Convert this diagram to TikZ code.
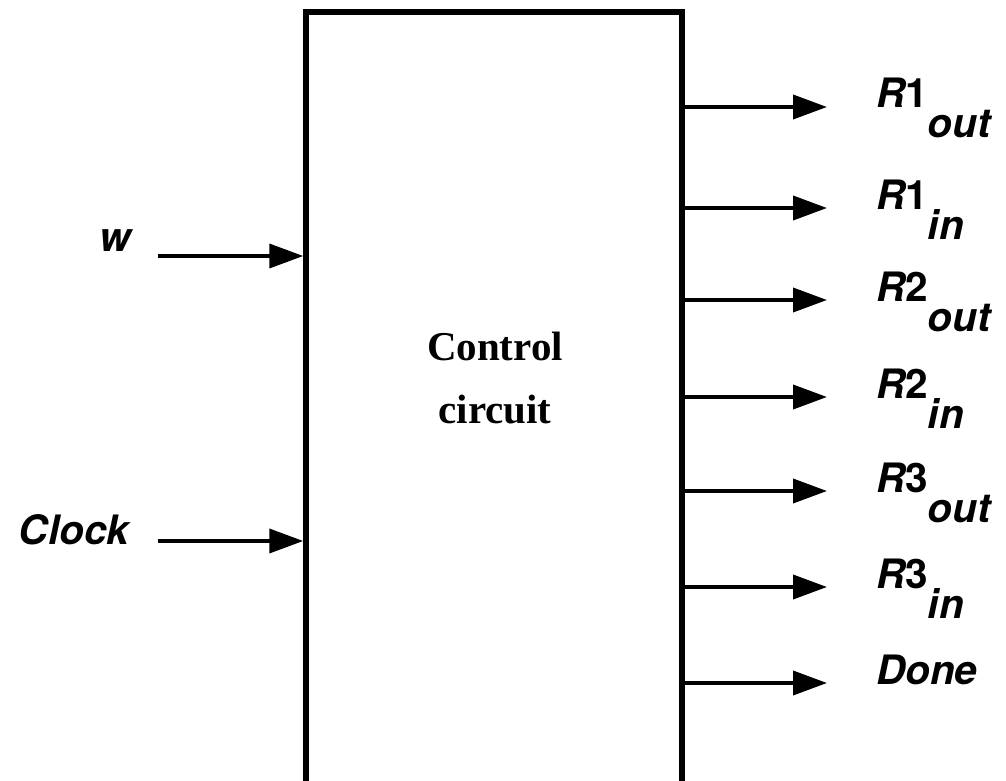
\documentclass[tikz,border=0pt]{standalone}
\usepackage{fontspec}
\setmainfont{Liberation Serif}
\setsansfont{TeX Gyre Heros}
\usetikzlibrary{arrows.meta}
\tikzset{
  blk/.style={draw, line width=5.5pt, minimum width=376pt, minimum height=818pt, inner sep=0pt},
  sig/.style={line width=3.8pt, -{Triangle[length=34pt,width=24pt]}},
  lbl/.style={font=\fontsize{40.5}{48}\selectfont\sffamily\bfseries\itshape, inner sep=0pt},
  outl/.style={lbl, anchor=base west},
  ttl/.style={font=\fontsize{41}{63}\selectfont\bfseries, align=center, inner sep=0pt}
}
\newcommand{\sigR}[2]{R\upshape #1\itshape\raisebox{-30pt}{#2}}
\begin{document}
\begin{tikzpicture}[x=1pt,y=-1pt]
\useasboundingbox (0,0) rectangle (1006,781);
\clip (0,0) rectangle (1006,781);
\node[blk] (box) at (494,421) {};
\node[ttl, anchor=base] (title) at (495,423) {Control\\circuit};
% inputs
\node[lbl] (w) at (115,241) {w};
\node[lbl] (clk) at (74,530) {Clock};
\coordinate (win) at (158,256);
\coordinate (cin) at (158,541);
\draw[sig] (win) -- (win -| box.west);
\draw[sig] (cin) -- (cin -| box.west);
% outputs
\foreach \n/\y/\a/\b in {r1o/107/1/out, r1i/208/1/in, r2o/300/2/out, r2i/397/2/in, r3o/491/3/out, r3i/587/3/in}{
  \node[outl] (\n) at (876,\y+1) {\sigR{\a}{\b}};
  \coordinate (t\n) at (827,\y);
  \draw[sig] (box.east |- t\n) -- (t\n);
}
\node[outl] (done) at (876,684) {Done};
\coordinate (tdone) at (827,683);
\draw[sig] (box.east |- tdone) -- (tdone);
\end{tikzpicture}
\end{document}
